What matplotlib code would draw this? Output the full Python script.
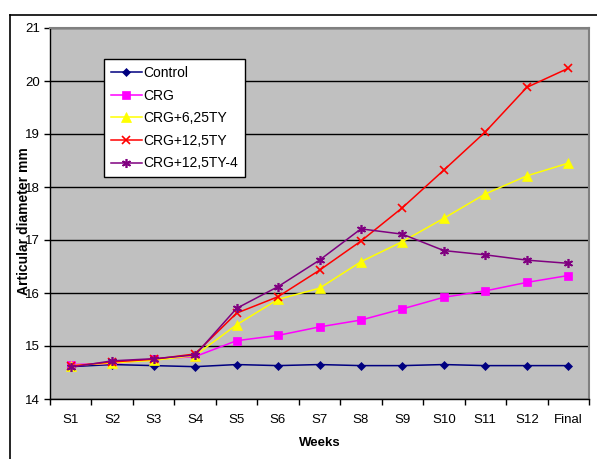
import numpy as np
import matplotlib
matplotlib.use("Agg")
import matplotlib.pyplot as plt
from matplotlib.lines import Line2D

plt.rcParams['font.family'] = ['Liberation Sans', 'DejaVu Sans']

weeks = ["S1", "S2", "S3", "S4", "S5", "S6", "S7", "S8", "S9", "S10", "S11", "S12", "Final"]

control = [14.61, 14.65, 14.63, 14.61, 14.65, 14.63, 14.65, 14.63, 14.63, 14.65, 14.63, 14.63, 14.63]
crg = [14.65, 14.67, 14.75, 14.80, 15.10, 15.20, 15.36, 15.49, 15.70, 15.92, 16.04, 16.20, 16.33]
crg_625ty = [14.63, 14.68, 14.73, 14.82, 15.40, 15.88, 16.09, 16.59, 16.97, 17.41, 17.87, 18.21, 18.45]
crg_125ty = [14.62, 14.70, 14.75, 14.85, 15.62, 15.93, 16.43, 16.98, 17.61, 18.32, 19.04, 19.88, 20.24]
crg_125ty4 = [14.60, 14.72, 14.76, 14.83, 15.71, 16.12, 16.62, 17.21, 17.11, 16.80, 16.72, 16.62, 16.56]

series = [
    ("Control", control, "#000080", "D", 4.5),
    ("CRG", crg, "#FF00FF", "s", 5.5),
    ("CRG+6,25TY", crg_625ty, "#FFFF00", "^", 6.5),
    ("CRG+12,5TY", crg_125ty, "#FF0000", "x", 6),
    ("CRG+12,5TY-4", crg_125ty4, "#800080", (6, 2, 0), 6.5),
]

fig = plt.figure(figsize=(5.97, 4.59), dpi=100)
W, H = 597, 459
ax = fig.add_axes([50 / W, 1 - 399 / H, 539 / W, 371 / H])
ax.set_facecolor("#C0C0C0")

x = np.arange(len(weeks))
for name, vals, col, mk, ms in series:
    ax.plot(x, vals, color=col, marker=mk, markersize=ms, linewidth=1.1,
            markeredgewidth=1.2 if mk in ("x",) or isinstance(mk, tuple) else 0.5,
            markeredgecolor=col, label=name)

ax.set_xlim(-0.5, len(weeks) - 0.5)
ax.set_ylim(14, 21)
ax.set_yticks(range(14, 22))
ax.yaxis.grid(True, color="black", linewidth=1)
ax.set_axisbelow(True)

ax.set_xticks(x)
ax.set_xticklabels(weeks, fontsize=9.5)
ax.set_xticks(np.arange(-0.5, len(weeks)), minor=True)
ax.tick_params(axis="x", which="major", length=0, pad=11)
ax.tick_params(axis="x", which="minor", length=4, width=1, direction="out")
ax.tick_params(axis="y", length=4, width=1, labelsize=9.5, pad=3)

for side in ("top", "right"):
    ax.spines[side].set_color("#808080")
    ax.spines[side].set_linewidth(1.5)
for side in ("left", "bottom"):
    ax.spines[side].set_color("black")
    ax.spines[side].set_linewidth(1)

fig.text(320 / W, 1 - 443 / H, "Weeks", fontsize=9.5, fontweight="bold",
         ha="center", va="center")
fig.text(24 / W, 1 - 221 / H, "Articular diameter mm", fontsize=10,
         fontweight="bold", rotation=90, ha="center", va="center")

leg = ax.legend(loc="upper left", bbox_to_anchor=((104 - 50) / 539, (399 - 59) / 371),
                frameon=True, fancybox=False, fontsize=10, borderpad=0.5,
                labelspacing=0.62, handlelength=2.2, handletextpad=0.15,
                borderaxespad=0)
leg.get_frame().set_edgecolor("black")
leg.get_frame().set_linewidth(1)
leg.get_frame().set_facecolor("white")
leg.get_frame().set_alpha(1)

# outer chart border
fig.add_artist(Line2D([10 / W, 1], [1 - 15 / H, 1 - 15 / H], color="black", linewidth=1.2,
                      transform=fig.transFigure))
fig.add_artist(Line2D([10 / W, 10 / W], [0, 1 - 15 / H], color="black", linewidth=1.2,
                      transform=fig.transFigure))

fig.savefig("out.png", dpi=100)
